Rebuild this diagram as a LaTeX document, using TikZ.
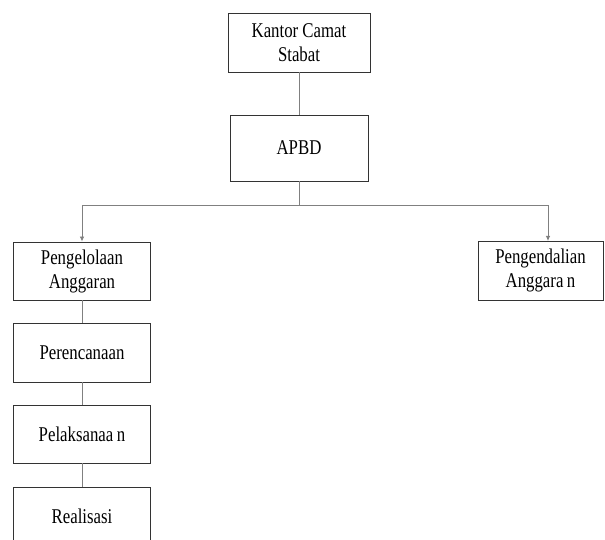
\documentclass[tikz,border=0pt]{standalone}
\usepackage{fontspec}
\setmainfont{Liberation Serif}[FakeStretch=0.8]
\usepackage{tikz}
\usetikzlibrary{positioning, arrows.meta}

\begin{document}
\begin{tikzpicture}[x=1pt, y=-1pt]
\tikzstyle{org_box}=[rectangle, draw=black!80, line width=0.9pt, fill=white, align=center, font=\fontsize{21}{24}\selectfont, inner sep=0pt]
\tikzstyle{org_line}=[draw=black!50, line width=0.8pt]
\tikzstyle{org_arrow}=[org_line, -{Latex[length=5pt, width=4.5pt]}]

\clip (0,0) rectangle (605,540);
\fill[white] (0,0) rectangle (605,540);

\node[org_box, minimum width=142pt, minimum height=59pt] at (299, 42.5) (kantor) {Kantor Camat\\Stabat};
\node[org_box, minimum width=138pt, minimum height=66pt] at (299, 148) (apbd) {APBD};

\node[org_box, minimum width=137pt, minimum height=58pt] at (82, 271) (kelola) {Pengelolaan\\Anggaran};
\node[org_box, minimum width=137pt, minimum height=59pt] at (82, 352.5) (rencana) {Perencanaan};
\node[org_box, minimum width=137pt, minimum height=58pt] at (82, 434) (laksana) {Pelaksanaa\,n};
\node[org_box, minimum width=137pt, minimum height=58pt] at (82, 516) (realisasi) {Realisasi};

\node[org_box, minimum width=125pt, minimum height=59pt] at (540.5, 270.5) (kendali) {Pengendalian\\Anggara\,n};

\coordinate (split) at (299, 205);
\coordinate (kendali_in) at (548, 241);

\path [org_line] (kantor) edge (apbd);
\path [org_line] (apbd) edge (split);
\draw [org_arrow] (split) -| (kelola.north);
\draw [org_arrow] (split) -| (kendali_in);

%chain below
\path [org_line] (kelola) edge (rencana);
\path [org_line] (rencana) edge (laksana);
\path [org_line] (laksana) edge (realisasi);

\end{tikzpicture}
\end{document}
